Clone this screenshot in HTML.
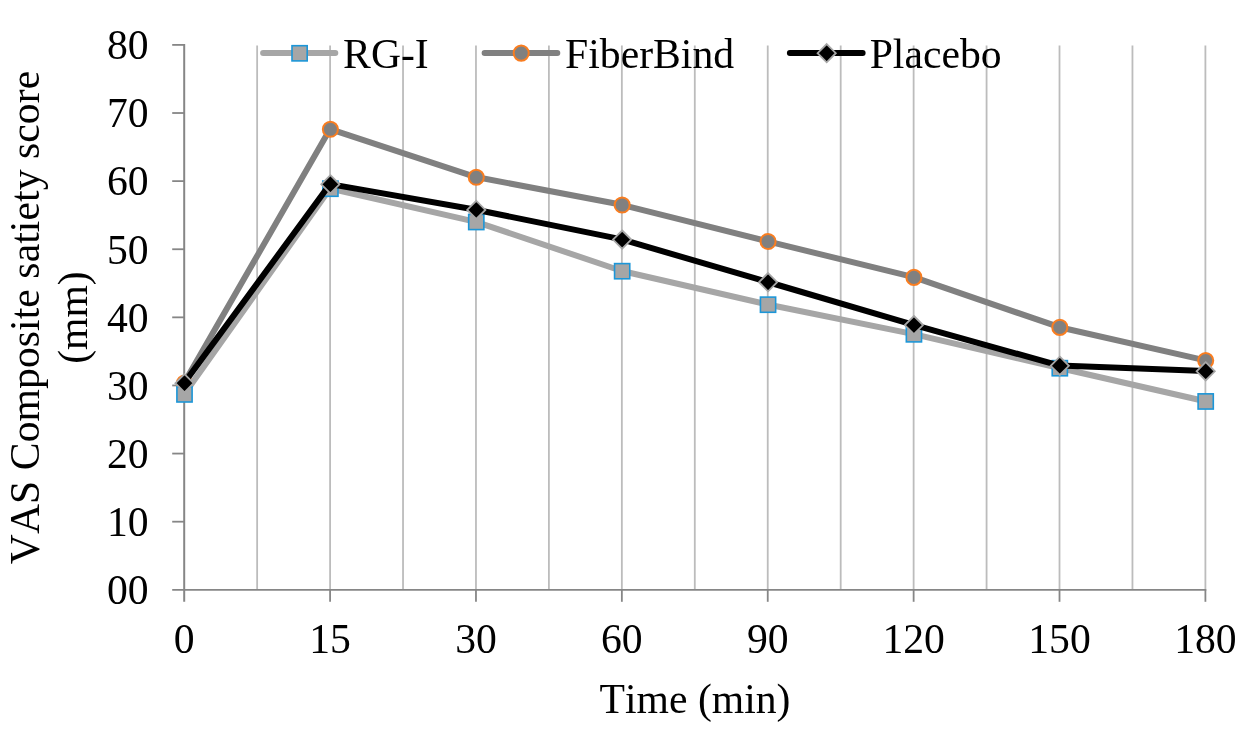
<!DOCTYPE html>
<html><head><meta charset="utf-8"><title>chart</title>
<style>html,body{margin:0;padding:0;background:#fff;overflow:hidden}body{width:1253px;height:735px;font-family:"Liberation Serif",serif}</style>
</head><body>
<svg width="1253" height="735" viewBox="0 0 1253 735" style="display:block;will-change:transform">
<rect width="1253" height="735" fill="#fff"/>
<line x1="257.14" y1="45.4" x2="257.14" y2="589.8" stroke="#bcbcbc" stroke-width="1.8"/>
<line x1="330.09" y1="45.4" x2="330.09" y2="589.8" stroke="#bcbcbc" stroke-width="1.8"/>
<line x1="403.03" y1="45.4" x2="403.03" y2="589.8" stroke="#bcbcbc" stroke-width="1.8"/>
<line x1="475.97" y1="45.4" x2="475.97" y2="589.8" stroke="#bcbcbc" stroke-width="1.8"/>
<line x1="548.91" y1="45.4" x2="548.91" y2="589.8" stroke="#bcbcbc" stroke-width="1.8"/>
<line x1="621.86" y1="45.4" x2="621.86" y2="589.8" stroke="#bcbcbc" stroke-width="1.8"/>
<line x1="694.80" y1="45.4" x2="694.80" y2="589.8" stroke="#bcbcbc" stroke-width="1.8"/>
<line x1="767.74" y1="45.4" x2="767.74" y2="589.8" stroke="#bcbcbc" stroke-width="1.8"/>
<line x1="840.69" y1="45.4" x2="840.69" y2="589.8" stroke="#bcbcbc" stroke-width="1.8"/>
<line x1="913.63" y1="45.4" x2="913.63" y2="589.8" stroke="#bcbcbc" stroke-width="1.8"/>
<line x1="986.57" y1="45.4" x2="986.57" y2="589.8" stroke="#bcbcbc" stroke-width="1.8"/>
<line x1="1059.51" y1="45.4" x2="1059.51" y2="589.8" stroke="#bcbcbc" stroke-width="1.8"/>
<line x1="1132.46" y1="45.4" x2="1132.46" y2="589.8" stroke="#bcbcbc" stroke-width="1.8"/>
<line x1="1205.40" y1="45.4" x2="1205.40" y2="589.8" stroke="#bcbcbc" stroke-width="1.8"/>
<line x1="184.2" y1="44.0" x2="184.2" y2="601.8" stroke="#868686" stroke-width="2"/>
<line x1="172.2" y1="589.8" x2="1206.3000000000002" y2="589.8" stroke="#868686" stroke-width="1.8"/>
<line x1="172.2" y1="521.69" x2="184.2" y2="521.69" stroke="#868686" stroke-width="1.8"/>
<line x1="172.2" y1="453.57" x2="184.2" y2="453.57" stroke="#868686" stroke-width="1.8"/>
<line x1="172.2" y1="385.46" x2="184.2" y2="385.46" stroke="#868686" stroke-width="1.8"/>
<line x1="172.2" y1="317.35" x2="184.2" y2="317.35" stroke="#868686" stroke-width="1.8"/>
<line x1="172.2" y1="249.24" x2="184.2" y2="249.24" stroke="#868686" stroke-width="1.8"/>
<line x1="172.2" y1="181.12" x2="184.2" y2="181.12" stroke="#868686" stroke-width="1.8"/>
<line x1="172.2" y1="113.01" x2="184.2" y2="113.01" stroke="#868686" stroke-width="1.8"/>
<line x1="172.2" y1="44.90" x2="184.2" y2="44.90" stroke="#868686" stroke-width="1.8"/>
<line x1="330.09" y1="589.8" x2="330.09" y2="601.8" stroke="#868686" stroke-width="1.8"/>
<line x1="475.97" y1="589.8" x2="475.97" y2="601.8" stroke="#868686" stroke-width="1.8"/>
<line x1="621.86" y1="589.8" x2="621.86" y2="601.8" stroke="#868686" stroke-width="1.8"/>
<line x1="767.74" y1="589.8" x2="767.74" y2="601.8" stroke="#868686" stroke-width="1.8"/>
<line x1="913.63" y1="589.8" x2="913.63" y2="601.8" stroke="#868686" stroke-width="1.8"/>
<line x1="1059.51" y1="589.8" x2="1059.51" y2="601.8" stroke="#868686" stroke-width="1.8"/>
<line x1="1205.40" y1="589.8" x2="1205.40" y2="601.8" stroke="#868686" stroke-width="1.8"/>
<g font-family="'Liberation Serif', serif" font-size="41.67" fill="#000" style="font-kerning:none;font-variant-ligatures:none">
<text x="148.6" y="604.10" text-anchor="end">00</text>
<text x="148.6" y="535.99" text-anchor="end">10</text>
<text x="148.6" y="467.87" text-anchor="end">20</text>
<text x="148.6" y="399.76" text-anchor="end">30</text>
<text x="148.6" y="331.65" text-anchor="end">40</text>
<text x="148.6" y="263.54" text-anchor="end">50</text>
<text x="148.6" y="195.42" text-anchor="end">60</text>
<text x="148.6" y="127.31" text-anchor="end">70</text>
<text x="148.6" y="59.20" text-anchor="end">80</text>
<text x="184.20" y="653" text-anchor="middle">0</text>
<text x="330.09" y="653" text-anchor="middle">15</text>
<text x="475.97" y="653" text-anchor="middle">30</text>
<text x="621.86" y="653" text-anchor="middle">60</text>
<text x="767.74" y="653" text-anchor="middle">90</text>
<text x="913.63" y="653" text-anchor="middle">120</text>
<text x="1059.51" y="653" text-anchor="middle">150</text>
<text x="1205.40" y="653" text-anchor="middle">180</text>
<text x="695.0" y="712.8" text-anchor="middle">Time (min)</text>
<text transform="translate(38.6,317.5) rotate(-90)" text-anchor="middle" textLength="493.4" lengthAdjust="spacing">VAS Composite satiety score</text>
<text transform="translate(86.6,317.6) rotate(-90)" text-anchor="middle">(mm)</text>
<text x="343.1" y="67.9">RG-I</text>
<text x="565.1" y="67.9">FiberBind</text>
<text x="869.7" y="67.9">Placebo</text>
</g>
<polyline points="184.20,382.80 330.09,129.06 475.97,177.06 621.86,204.80 767.74,241.30 913.63,277.20 1059.51,327.20 1205.40,360.40" fill="none" stroke="#808080" stroke-width="6" stroke-linecap="round" stroke-linejoin="round"/>
<circle cx="184.50" cy="383.00" r="7.55" fill="#808080" stroke="#f97d20" stroke-width="2"/>
<circle cx="330.39" cy="129.26" r="7.55" fill="#808080" stroke="#f97d20" stroke-width="2"/>
<circle cx="476.27" cy="177.26" r="7.55" fill="#808080" stroke="#f97d20" stroke-width="2"/>
<circle cx="622.16" cy="205.00" r="7.55" fill="#808080" stroke="#f97d20" stroke-width="2"/>
<circle cx="768.04" cy="241.50" r="7.55" fill="#808080" stroke="#f97d20" stroke-width="2"/>
<circle cx="913.93" cy="277.40" r="7.55" fill="#808080" stroke="#f97d20" stroke-width="2"/>
<circle cx="1059.81" cy="327.40" r="7.55" fill="#808080" stroke="#f97d20" stroke-width="2"/>
<circle cx="1205.70" cy="360.60" r="7.55" fill="#808080" stroke="#f97d20" stroke-width="2"/>
<polyline points="184.20,394.20 330.09,188.50 475.97,221.80 621.86,271.00 767.74,304.50 913.63,334.10 1059.51,368.00 1205.40,401.25" fill="none" stroke="#a6a6a6" stroke-width="6" stroke-linecap="round" stroke-linejoin="round"/>
<rect x="176.90" y="386.80" width="15.2" height="15.2" fill="#a6a6a6" stroke="#1c96d8" stroke-width="1.6"/>
<rect x="322.79" y="181.10" width="15.2" height="15.2" fill="#a6a6a6" stroke="#1c96d8" stroke-width="1.6"/>
<rect x="468.67" y="214.40" width="15.2" height="15.2" fill="#a6a6a6" stroke="#1c96d8" stroke-width="1.6"/>
<rect x="614.56" y="263.60" width="15.2" height="15.2" fill="#a6a6a6" stroke="#1c96d8" stroke-width="1.6"/>
<rect x="760.44" y="297.10" width="15.2" height="15.2" fill="#a6a6a6" stroke="#1c96d8" stroke-width="1.6"/>
<rect x="906.33" y="326.70" width="15.2" height="15.2" fill="#a6a6a6" stroke="#1c96d8" stroke-width="1.6"/>
<rect x="1052.21" y="360.60" width="15.2" height="15.2" fill="#a6a6a6" stroke="#1c96d8" stroke-width="1.6"/>
<rect x="1198.10" y="393.85" width="15.2" height="15.2" fill="#a6a6a6" stroke="#1c96d8" stroke-width="1.6"/>
<polyline points="184.20,383.00 330.09,184.10 475.97,209.70 621.86,239.40 767.74,282.00 913.63,324.90 1059.51,365.60 1205.40,371.07" fill="none" stroke="#000" stroke-width="6" stroke-linecap="round" stroke-linejoin="round"/>
<path d="M184.50 374.10L193.60 383.20L184.50 392.30L175.40 383.20Z" fill="#000" stroke="#a6a6a6" stroke-width="1.8"/>
<path d="M330.39 175.20L339.49 184.30L330.39 193.40L321.29 184.30Z" fill="#000" stroke="#a6a6a6" stroke-width="1.8"/>
<path d="M476.27 200.80L485.37 209.90L476.27 219.00L467.17 209.90Z" fill="#000" stroke="#a6a6a6" stroke-width="1.8"/>
<path d="M622.16 230.50L631.26 239.60L622.16 248.70L613.06 239.60Z" fill="#000" stroke="#a6a6a6" stroke-width="1.8"/>
<path d="M768.04 273.10L777.14 282.20L768.04 291.30L758.94 282.20Z" fill="#000" stroke="#a6a6a6" stroke-width="1.8"/>
<path d="M913.93 316.00L923.03 325.10L913.93 334.20L904.83 325.10Z" fill="#000" stroke="#a6a6a6" stroke-width="1.8"/>
<path d="M1059.81 356.70L1068.91 365.80L1059.81 374.90L1050.71 365.80Z" fill="#000" stroke="#a6a6a6" stroke-width="1.8"/>
<path d="M1205.70 362.17L1214.80 371.27L1205.70 380.37L1196.60 371.27Z" fill="#000" stroke="#a6a6a6" stroke-width="1.8"/>
<line x1="263.1" y1="53" x2="335.3" y2="53" stroke="#a6a6a6" stroke-width="6" stroke-linecap="round"/>
<rect x="292.00" y="45.70" width="15.2" height="15.2" fill="#a6a6a6" stroke="#1c96d8" stroke-width="1.6"/>
<line x1="484.6" y1="53" x2="557.3" y2="53" stroke="#808080" stroke-width="6" stroke-linecap="round"/>
<circle cx="521.20" cy="53.10" r="7.55" fill="#808080" stroke="#f97d20" stroke-width="2"/>
<line x1="789.9" y1="53" x2="862.6" y2="53" stroke="#000" stroke-width="6" stroke-linecap="round"/>
<path d="M826.70 44.10L835.80 53.20L826.70 62.30L817.60 53.20Z" fill="#000" stroke="#a6a6a6" stroke-width="1.8"/>
</svg>
</body></html>
